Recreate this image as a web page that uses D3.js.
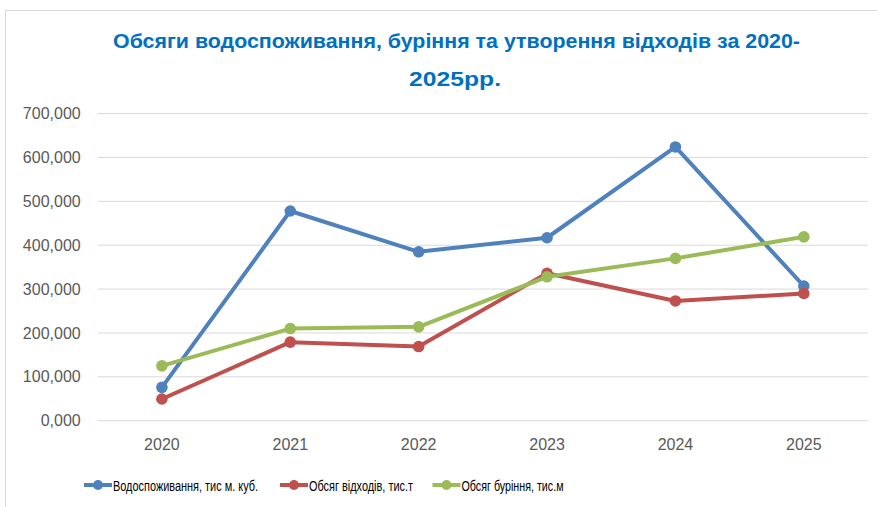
<!DOCTYPE html>
<html lang="uk">
<head>
<meta charset="UTF-8">
<title>Обсяги</title>
<style>
  body { margin: 0; background: #fff; }
  text { font-family: "Liberation Sans", Arial, sans-serif; }
</style>
</head>
<body>
<div id="chart"></div>
<script src="https://cdn.jsdelivr.net/npm/d3@7/dist/d3.min.js"></script>
<script>
// дані
const years = ["2020", "2021", "2022", "2023", "2024", "2025"];
const water = [76000, 478000, 385000, 417000, 624000, 307000];
const waste = [49500, 179000, 169000, 336000, 273000, 290000];
const drilling = [125000, 210000, 214000, 328000, 370000, 419000];
const yTicks = [0, 100000, 200000, 300000, 400000, 500000, 600000, 700000];
const seriesNames = ["Водоспоживання, тис м. куб.", "Обсяг відходів, тис.т", "Обсяг буріння, тис.м"];
const colors = ["#4F81BD", "#C0504D", "#9BBB59"];

const width = 877, height = 507;
const svg = d3.select("#chart").append("svg")
  .attr("width", width).attr("height", height);

// рамка
svg.append("rect")
  .attr("x", 5.5).attr("y", 10.5)
  .attr("width", 900).attr("height", 520)
  .attr("fill", "none").attr("stroke", "#d9d9d9");

// заголовок (шрифт ширший за Calibri, тому підганяємо textLength)
const title = svg.append("g")
  .attr("fill", "#0070C0")
  .style("font-weight", "bold")
  .style("font-size", "19.5px");
title.append("text").attr("text-anchor", "middle").attr("x", 456.5).attr("y", 47.5)
  .attr("textLength", 687).attr("lengthAdjust", "spacingAndGlyphs")
  .text("Обсяги водоспоживання, буріння та утворення відходів за 2020-");
title.append("text").attr("text-anchor", "middle").attr("x", 455).attr("y", 85.5)
  .attr("textLength", 92).attr("lengthAdjust", "spacingAndGlyphs")
  .text("2025рр.");

const plotLeft = 97.7, plotRight = 868, plotTop = 113.6, plotBottom = 420.7;

const x = d3.scaleBand().domain(years).range([plotLeft, plotRight]);
const y = d3.scaleLinear().domain([0, 700000]).range([plotBottom, plotTop]);

// сітка
svg.append("g").selectAll("line")
  .data(yTicks)
  .join("line")
  .attr("x1", plotLeft).attr("x2", plotRight)
  .attr("y1", d => y(d)).attr("y2", d => y(d))
  .attr("stroke", "#d9d9d9").attr("stroke-width", 1);

// вісь Y  (формат як в Excel: 100,000 ... 0,000)
const yAxis = svg.append("g")
  .attr("transform", `translate(${plotLeft},0)`)
  .call(d3.axisLeft(y).tickValues(yTicks).tickSize(0).tickPadding(17)
    .tickFormat(d => d === 0 ? "0,000" : d3.format(",")(d)));
yAxis.select(".domain").remove();
yAxis.selectAll("text").attr("fill", "#595959").style("font-size", "16px");

// вісь X
const xAxis = svg.append("g")
  .attr("transform", `translate(0,${plotBottom})`)
  .call(d3.axisBottom(x).tickSize(0).tickPadding(18));
xAxis.select(".domain").remove();
xAxis.selectAll("text").attr("fill", "#595959").style("font-size", "16px");

// лінії
const allSeries = [water, waste, drilling];
const cx = (d, i) => x(years[i]) + x.bandwidth() / 2;
const line = d3.line().x(cx).y(d => y(d));

allSeries.forEach((s, k) => {
  svg.append("path")
    .attr("d", line(s))
    .attr("fill", "none")
    .attr("stroke", colors[k])
    .attr("stroke-width", 4)
    .attr("stroke-linejoin", "round");
  svg.append("g").selectAll("circle")
    .data(s)
    .join("circle")
    .attr("cx", cx)
    .attr("cy", d => y(d))
    .attr("r", 5.8)
    .attr("fill", colors[k]);
});

// легенда
const legendX = [84, 280, 432.5];
const legendW = [145, 104, 102];
const legend = svg.append("g");
seriesNames.forEach((name, k) => {
  const g = legend.append("g").attr("transform", `translate(${legendX[k]},485)`);
  g.append("line").attr("x1", 0).attr("x2", 28).attr("y1", 0).attr("y2", 0)
    .attr("stroke", colors[k]).attr("stroke-width", 4);
  g.append("circle").attr("cx", 14).attr("cy", 0).attr("r", 5).attr("fill", colors[k]);
  g.append("text").attr("x", 29).attr("y", 6)
    .attr("textLength", legendW[k]).attr("lengthAdjust", "spacingAndGlyphs")
    .attr("fill", "#000").style("font-size", "15.5px").text(name);
});
</script>
</body>
</html>
